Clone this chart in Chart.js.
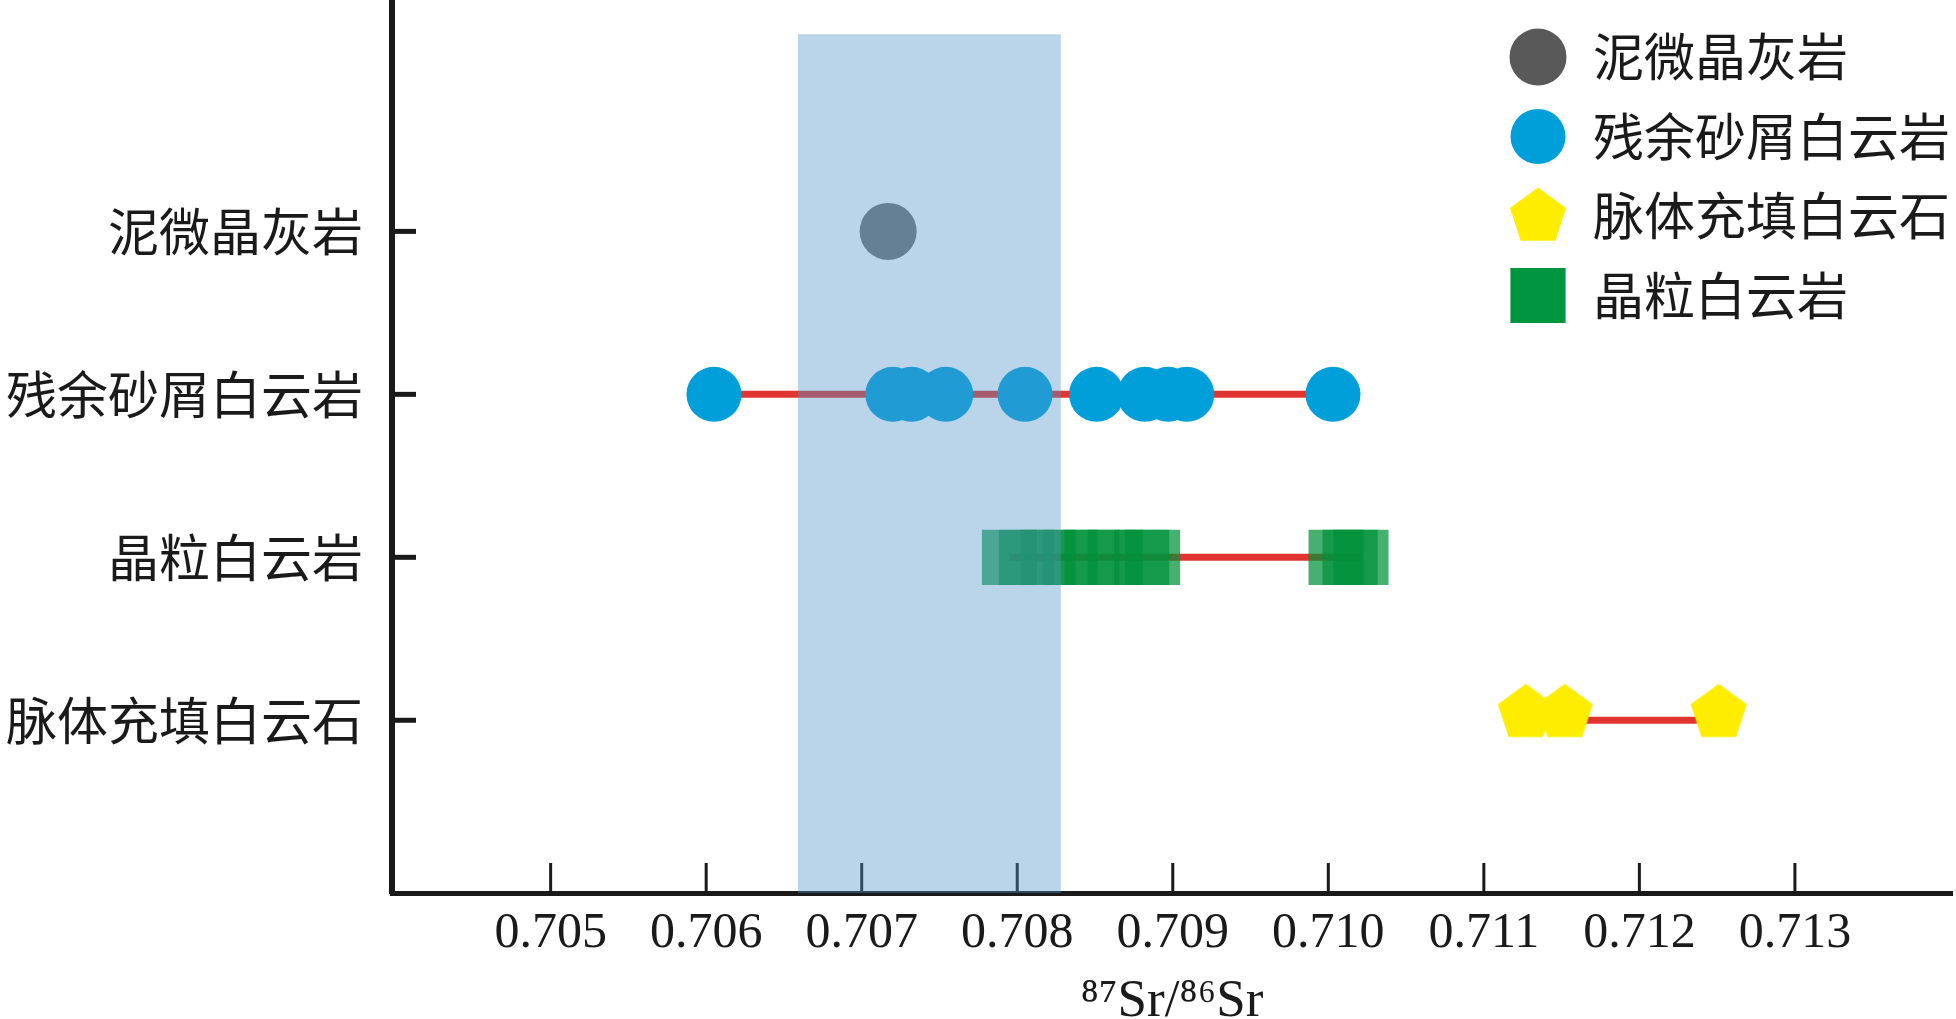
<!DOCTYPE html>
<html>
<head>
<meta charset="utf-8">
<script src="https://cdn.jsdelivr.net/npm/chart.js@4.4.1/dist/chart.umd.min.js"></script>
<style>
    html, body { margin: 0; padding: 0; background: #fff; }
    #wrap { width: 1956px; height: 1019px; }
</style>
</head>
<body>
<div id="wrap"><canvas id="myChart"></canvas></div>
<script>
// categories on the y axis, top to bottom
const categories = ['泥微晶灰岩', '残余砂屑白云岩', '晶粒白云岩', '脉体充填白云石'];
const legendOrder = ['泥微晶灰岩', '残余砂屑白云岩', '脉体充填白云石', '晶粒白云岩'];

// 87Sr/86Sr values
const micriteSr = [0.70717];
const residualSr = [0.70605, 0.70720, 0.70732, 0.70754, 0.70805, 0.70851, 0.70882, 0.70897, 0.70909, 0.71003];
const granularSr = [0.70795, 0.70806, 0.70820, 0.70834, 0.70848, 0.70863, 0.70880, 0.70887, 0.71005, 0.71014, 0.71021];
const veinSr = [0.71127, 0.71152, 0.71251];

const xTicks = [0.705, 0.706, 0.707, 0.708, 0.709, 0.710, 0.711, 0.712, 0.713];
const xRange = [0.70398, 0.71401];
const yRange = [-0.06, 5.42];

// shaded reference range
const bandSr = [0.70659, 0.70828];
const bandTop = 5.21;

const rowY = name => categories.length - categories.indexOf(name);
const pts = (vals, name) => vals.map(v => ({ x: v, y: rowY(name) }));
const range = (vals, name) => [
    { x: Math.min(...vals), y: rowY(name) },
    { x: Math.max(...vals), y: rowY(name) }
];

function pentagon(color) {
    const c = document.createElement('canvas');
    c.width = 80;
    c.height = 80;
    const g = c.getContext('2d');
    const R = 29.5, cx = 40, cy = 33;
    g.beginPath();
    for (let i = 0; i < 5; i++) {
        const a = -Math.PI / 2 + i * 2 * Math.PI / 5;
        g.lineTo(cx + R * Math.cos(a), cy + R * Math.sin(a));
    }
    g.closePath();
    g.fillStyle = color;
    g.fill();
    return c;
}

const lineStyle = {
    showLine: true,
    borderColor: '#e03431',
    borderWidth: 7,
    pointRadius: 0,
    order: 2
};

const data = {
    datasets: [
        {
            label: '泥微晶灰岩',
            data: pts(micriteSr, '泥微晶灰岩'),
            pointStyle: 'circle',
            pointRadius: 28.5,
            backgroundColor: '#727272',
            legendColor: '#595959',
            borderWidth: 0,
            order: 1
        },
        {
            label: '残余砂屑白云岩',
            data: pts(residualSr, '残余砂屑白云岩'),
            pointStyle: 'circle',
            pointRadius: 27.5,
            backgroundColor: '#009fda',
            legendColor: '#009fda',
            borderWidth: 0,
            order: 1
        },
        {
            label: '脉体充填白云石',
            data: pts(veinSr, '脉体充填白云石'),
            pointStyle: pentagon('#ffed00'),
            pointRadius: 28,
            backgroundColor: '#ffed00',
            legendColor: '#ffed00',
            borderWidth: 0,
            order: 1
        },
        {
            label: '晶粒白云岩',
            data: pts(granularSr, '晶粒白云岩'),
            pointStyle: 'rect',
            pointRadius: 39,
            backgroundColor: 'rgba(0, 145, 58, 0.72)',
            legendColor: '#00963f',
            borderWidth: 0,
            order: 1
        },
        { ...lineStyle, label: 'r1', data: range(residualSr, '残余砂屑白云岩') },
        { ...lineStyle, label: 'r2', data: range(granularSr, '晶粒白云岩') },
        { ...lineStyle, label: 'r3', data: range(veinSr, '脉体充填白云石') }
    ]
};

// short tick marks pointing into the plot
const inwardTicks = {
    id: 'inwardTicks',
    beforeDatasetsDraw(chart) {
        const { ctx, chartArea: a, scales: { x, y } } = chart;
        ctx.save();
        ctx.strokeStyle = '#1a1a1a';
        ctx.lineWidth = 3;
        x.ticks.forEach(t => {
            const px = x.getPixelForValue(t.value);
            ctx.beginPath();
            ctx.moveTo(px, a.bottom);
            ctx.lineTo(px, a.bottom - 30);
            ctx.stroke();
        });
        ctx.lineWidth = 5;
        y.ticks.forEach(t => {
            const py = y.getPixelForValue(t.value);
            ctx.beginPath();
            ctx.moveTo(a.left, py);
            ctx.lineTo(a.left + 24, py);
            ctx.stroke();
        });
        ctx.restore();
    }
};

// translucent light blue band laid over the marks
const srBand = {
    id: 'srBand',
    afterDatasetsDraw(chart) {
        const { ctx, scales: { x, y } } = chart;
        const l = x.getPixelForValue(bandSr[0]);
        const r = x.getPixelForValue(bandSr[1]);
        const t = y.getPixelForValue(bandTop);
        const b = y.getPixelForValue(yRange[0]);
        ctx.save();
        ctx.fillStyle = 'rgba(82, 150, 202, 0.4)';
        ctx.fillRect(l, t, r - l, b - t);
        ctx.restore();
    }
};

// legend block in the upper right of the plot
const sideLegend = {
    id: 'sideLegend',
    afterDraw(chart) {
        const { ctx, chartArea: a } = chart;
        const mx = a.right - 414;
        const tx = a.right - 359;
        ctx.save();
        ctx.font = '51px "Noto Sans CJK SC"';
        ctx.textBaseline = 'middle';
        ctx.textAlign = 'left';
        legendOrder.forEach((name, i) => {
            const ds = chart.data.datasets.find(d => d.label === name);
            const y = a.top + 57 + i * 79.5;
            const isImg = ds.pointStyle instanceof HTMLCanvasElement;
            ctx.fillStyle = ds.legendColor;
            Chart.helpers.drawPoint(ctx, {
                pointStyle: ds.pointStyle,
                radius: ds.pointRadius,
                rotation: 0,
                borderWidth: 0
            }, mx, isImg ? y + 8 : y);
            ctx.fillStyle = '#1a1a1a';
            ctx.fillText(name, tx, y);
        });
        ctx.restore();
    }
};

const config = {
    type: 'scatter',
    data: data,
    options: {
        responsive: true,
        maintainAspectRatio: false,
        animation: false,
        events: [],
        layout: { autoPadding: false, padding: { left: 0, right: 4, top: 0, bottom: 0 } },
        plugins: {
            legend: { display: false },
            tooltip: { enabled: false }
        },
        scales: {
            x: {
                type: 'linear',
                min: xRange[0],
                max: xRange[1],
                afterBuildTicks: s => { s.ticks = xTicks.map(v => ({ value: v })); },
                afterFit: s => {
                    s.height = 126;
                    s.paddingLeft = 0;
                    s.paddingRight = 0;
                },
                grid: { display: false },
                border: { display: true, color: '#1a1a1a', width: 5 },
                ticks: {
                    autoSkip: false,
                    maxRotation: 0,
                    padding: 3,
                    color: '#1a1a1a',
                    font: { family: '"Liberation Serif", "DejaVu Serif", serif', size: 50 },
                    callback: v => v.toFixed(3)
                },
                title: {
                    display: true,
                    text: '⁸⁷Sr/⁸⁶Sr',
                    color: '#1a1a1a',
                    padding: { top: 0, bottom: -15 },
                    font: { family: '"Liberation Serif", "DejaVu Serif", serif', size: 53 }
                }
            },
            y: {
                type: 'linear',
                min: yRange[0],
                max: yRange[1],
                afterBuildTicks: s => { s.ticks = categories.map((c, i) => ({ value: categories.length - i })); },
                afterFit: s => {
                    s.width = 392;
                    s.paddingTop = 0;
                    s.paddingBottom = 0;
                },
                grid: { display: false },
                border: { display: true, color: '#1a1a1a', width: 6 },
                ticks: {
                    padding: 21,
                    color: '#1a1a1a',
                    font: { family: '"Noto Sans CJK SC"', size: 51 },
                    callback: v => categories[categories.length - v]
                }
            }
        }
    },
    plugins: [inwardTicks, srBand, sideLegend]
};

const myChart = new Chart(document.getElementById('myChart'), config);
</script>
</body>
</html>
